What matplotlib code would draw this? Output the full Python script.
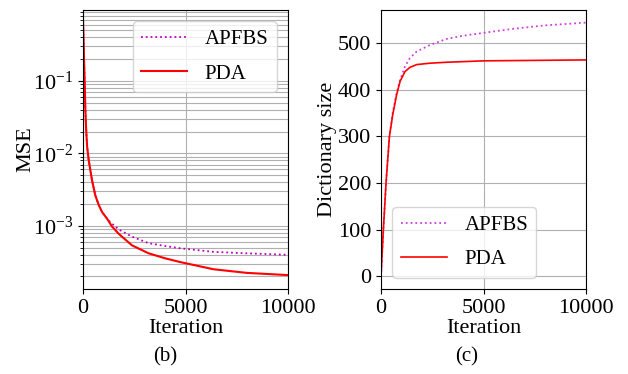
import numpy as np
import matplotlib
matplotlib.use('Agg')
from matplotlib import pyplot as plt
from matplotlib.ticker import LogLocator, NullFormatter

plt.rcParams['font.family'] = ['Liberation Serif', 'DejaVu Serif']
plt.rcParams['mathtext.fontset'] = 'stix'
plt.rcParams['font.size'] = 16

#%% data
# MSE (log10 values) vs iteration
mse_iter_pda = [0, 20, 50, 80, 110, 150, 200, 276, 440, 600, 765, 930, 1170, 1415, 1740,
                2390, 3200, 4020, 4730, 6360, 7980, 9935, 10000]
mse_log_pda = [-0.15, -0.35, -0.7, -1.0, -1.35, -1.65, -1.9, -2.09, -2.37, -2.58, -2.71,
               -2.81, -2.9, -3.01, -3.11, -3.27, -3.38, -3.45, -3.5, -3.6, -3.65, -3.68, -3.68]
mse_iter_apfbs = [0, 20, 50, 80, 110, 150, 200, 276, 440, 600, 765, 930, 1170, 1300, 1415,
                  1740, 2390, 3200, 4020, 4730, 6360, 7980, 9935, 10000]
mse_log_apfbs = [-0.15, -0.35, -0.7, -1.0, -1.35, -1.65, -1.9, -2.09, -2.37, -2.58, -2.71,
                 -2.81, -2.9, -2.94, -2.97, -3.05, -3.15, -3.24, -3.28, -3.31, -3.36, -3.38,
                 -3.40, -3.40]

# dictionary size vs iteration
dict_iter_pda = [0, 50, 115, 245, 410, 570, 760, 930, 1170, 1410, 1740, 2390, 3200, 5000, 10000]
dict_pda = [0, 45, 100, 200, 300, 346, 389, 418, 439, 448, 454, 457, 459, 462, 464]
dict_iter_apfbs = [0, 50, 115, 245, 410, 570, 760, 930, 1170, 1410, 1740, 2390, 3200, 4020,
                   5000, 6500, 8000, 10000]
dict_apfbs = [0, 45, 100, 200, 300, 350, 393, 421, 450, 468, 482, 496, 509, 516, 522, 531,
              538, 544]

labels = ['APFBS', 'PDA']

#%% figure
W, H = 628, 374
fig = plt.figure(figsize=(W / 100, H / 100), dpi=100)
axb = fig.add_axes([83 / W, 1 - 289 / H, 205 / W, 279 / H])
axc = fig.add_axes([381 / W, 1 - 289 / H, 205 / W, 279 / H])
leg_kw = dict(fontsize=15, labelspacing=0.7, handlelength=2.2, handletextpad=0.85,
              borderpad=0.4, borderaxespad=0.55)

# (b) MSE
axb.semilogy(mse_iter_apfbs, 10 ** np.array(mse_log_apfbs), ':', color='m', lw=1.3, label=labels[0])
axb.semilogy(mse_iter_pda, 10 ** np.array(mse_log_pda), '-', color='red', lw=1.5, label=labels[1])
axb.set_xlim(0, 10000)
axb.set_ylim(1.34e-4, 0.957)
axb.yaxis.set_minor_locator(LogLocator(base=10, subs=np.arange(2, 10), numticks=20))
axb.yaxis.set_minor_formatter(NullFormatter())
axb.set_xticks([0, 5000, 10000])
axb.grid(True, which='major', color='#b0b0b0', lw=0.8)
axb.grid(True, which='minor', axis='y', color='#b0b0b0', lw=0.8)
axb.set_xlabel('Iteration', labelpad=1)
axb.set_ylabel('MSE')
axb.yaxis.set_label_coords(-0.23, 0.5)
axb.legend(loc='upper right', **leg_kw)

# (c) dictionary size
axc.plot(dict_iter_apfbs, dict_apfbs, ':', color='#d040e0', lw=1.3, label=labels[0])
axc.plot(dict_iter_pda, dict_pda, '-', color='red', lw=1.2, label=labels[1])
axc.set_xlim(0, 10000)
axc.set_ylim(-27, 571)
axc.set_xticks([0, 5000, 10000])
axc.set_yticks([0, 100, 200, 300, 400, 500])
axc.grid(True, color='#b0b0b0', lw=0.8)
axc.set_xlabel('Iteration', labelpad=1)
axc.set_ylabel('Dictionary size')
axc.yaxis.set_label_coords(-0.215, 0.5)
axc.legend(loc='lower left', **leg_kw)

fig.text(165 / W, 1 - 357 / H, '(b)', ha='center', va='center', fontsize=15)
fig.text(467 / W, 1 - 357 / H, '(c)', ha='center', va='center', fontsize=15)

fig.savefig('out.png', dpi=100)
